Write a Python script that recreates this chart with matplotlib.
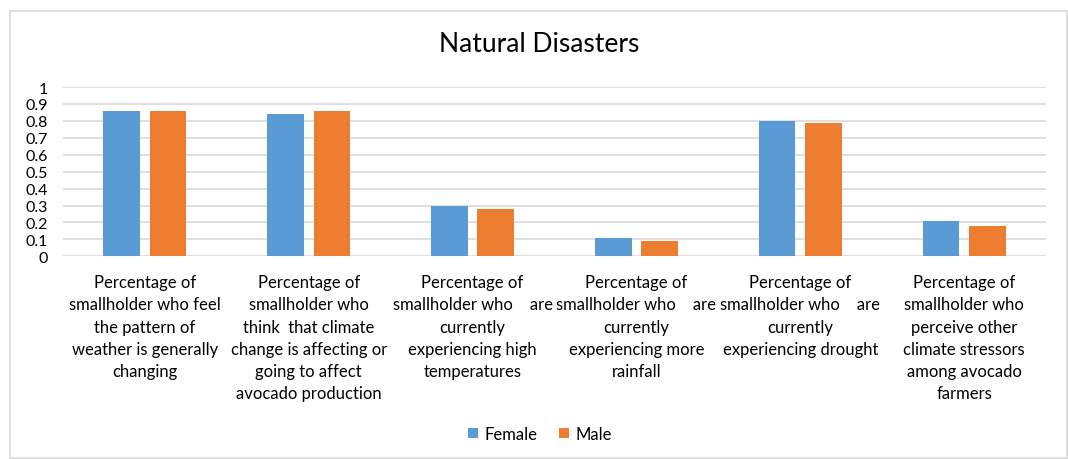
import numpy as np
import matplotlib.pyplot as plt
from matplotlib.patches import Rectangle

plt.rcParams['font.family'] = ['Lato', 'DejaVu Sans']

categories = [
    "Percentage of\nsmallholder who feel\nthe pattern of\nweather is generally\nchanging",
    "Percentage of\nsmallholder who\nthink  that climate\nchange is affecting or\ngoing to affect\navocado production",
    "Percentage of\nsmallholder who    are\ncurrently\nexperiencing high\ntemperatures",
    "Percentage of\nsmallholder who    are\ncurrently\nexperiencing more\nrainfall",
    "Percentage of\nsmallholder who    are\ncurrently\nexperiencing drought",
    "Percentage of\nsmallholder who\nperceive other\nclimate stressors\namong avocado\nfarmers",
]
female = [0.86, 0.84, 0.30, 0.11, 0.80, 0.21]
male = [0.86, 0.86, 0.28, 0.09, 0.79, 0.18]
yticks = [0, 0.1, 0.2, 0.3, 0.4, 0.5, 0.6, 0.7, 0.8, 0.9, 1]
ytick_labels = ['0', '0.1', '0.2', '0.3', '0.4', '0.5', '0.6', '0.7', '0.8', '0.9', '1']

blue = '#5B9BD5'
orange = '#ED7D31'
grid = '#D9D9D9'

fig = plt.figure(figsize=(10.68, 4.60), dpi=100)
ax = fig.add_axes([63/1068, 1-257.3/460, (1046-63)/1068, (257.3-88)/460])

x = np.arange(len(categories))
w = 0.224
off = 0.1417
ax.bar(x - off, female, w, color=blue, label='Female', zorder=3)
ax.bar(x + off, male, w, color=orange, label='Male', zorder=3)

ax.set_xlim(-0.5, len(categories) - 0.5)
ax.set_ylim(0, 1)
ax.set_yticks(yticks)
ax.set_yticklabels(ytick_labels, fontsize=11.5)
ax.yaxis.grid(True, color=grid, lw=1.2, zorder=0)
ax.set_xticks(x)
ax.set_xticklabels(categories, fontsize=12, linespacing=1.47)
ax.tick_params(axis='both', length=0)
ax.tick_params(axis='y', pad=11)
ax.tick_params(axis='x', pad=13)
for s in ax.spines.values():
    s.set_visible(False)

fig.text(539.5/1068, 1-45/460, 'Natural Disasters', fontsize=19, ha='center', va='center')

fig.legend(loc='center', bbox_to_anchor=(540/1068, 1-435/460), ncol=2, frameon=False,
           fontsize=12, handlelength=0.6, handleheight=0.6, handletextpad=0.4, columnspacing=1.3)

fig.patches.append(Rectangle((10/1068, 1/460), 1057/1068, 447/460, transform=fig.transFigure,
                             fill=False, edgecolor=grid, lw=1.2))

fig.savefig('out.png', dpi=100)
